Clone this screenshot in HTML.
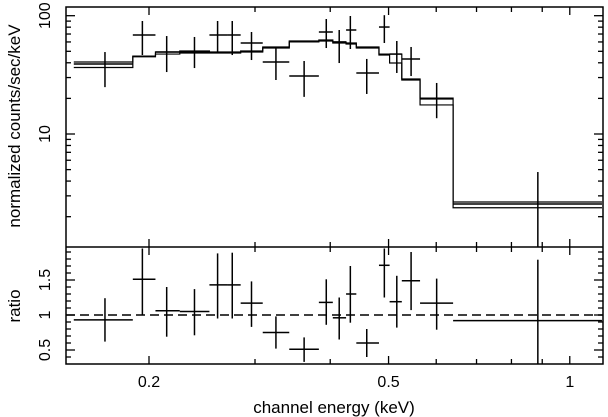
<!DOCTYPE html>
<html><head><meta charset="utf-8"><style>
html,body{margin:0;padding:0;background:#fff}
svg{display:block}
text{font-family:"Liberation Sans",sans-serif;fill:#000}
</style></head><body>
<svg id="chart" width="608" height="417" viewBox="0 0 608 417" xmlns="http://www.w3.org/2000/svg"></svg>
<script>
const binLo = [0.150,0.188,0.205,0.225,0.252,0.270,0.284,0.309,0.342,0.383,0.404,0.425,0.442,0.482,0.502,0.526,0.564,0.640];
const binHi = [0.188,0.205,0.225,0.252,0.270,0.284,0.309,0.342,0.383,0.404,0.425,0.442,0.482,0.502,0.526,0.564,0.640,1.131];
const binCenter = [0.169,0.195,0.214,0.238,0.260,0.275,0.296,0.325,0.362,0.394,0.414,0.432,0.460,0.492,0.516,0.545,0.601,0.885];
const counts = [39.1,68.7,49.3,49.3,68.7,68.7,58.8,40.6,30.9,72.8,60.0,75.7,32.8,80.2,47.4,43.1,19.8,2.56];
const countsHi = [49.3,90.2,67.3,66.1,90.2,90.2,72.8,54.4,41.4,93.8,75.7,99.4,43.1,101,61.1,54.4,27.0,4.77];
const countsLo = [24.9,46.5,33.4,36.1,48.4,46.5,42.2,28.6,20.6,53.3,39.8,52.3,21.8,58.8,32.8,30.9,13.6,0.5];
const modelA = [40.6,45.6,49.3,50.3,49.3,49.3,50.3,54.4,61.1,62.3,60.0,58.8,54.4,47.4,47.4,29.2,20.1,2.66];
const modelB = [36.5,45.0,47.4,48.4,48.4,48.4,49.3,53.3,60.0,61.1,58.8,57.6,53.3,46.5,39.8,28.6,17.6,2.38];
const ratio = [0.93,1.51,1.06,1.05,1.43,1.43,1.17,0.75,0.51,1.18,0.96,1.30,0.60,1.71,1.19,1.49,1.17,0.92];
const ratioHi = [1.24,1.95,1.40,1.37,1.88,1.89,1.48,0.98,0.68,1.51,1.25,1.70,0.80,1.95,1.56,1.90,1.52,1.79];
const ratioLo = [0.62,1.00,0.69,0.71,0.95,0.95,0.83,0.52,0.33,0.86,0.65,0.89,0.40,1.25,0.82,1.07,0.79,0.20];
const xTickLabels = [0.2,0.5,1];
const xMinorTicks = [0.2,0.3,0.4,0.5,0.6,0.7,0.8,0.9,1.0];
const yTopLabels = [10,100];
const yTopMinor = [2,3,4,5,6,7,8,9,20,30,40,50,60,70,80,90];
const yRatioLabels = [0.5,1,1.5];
const yRatioMinor = [0.3,0.4,0.5,0.6,0.7,0.8,0.9,1.0,1.1,1.2,1.3,1.4,1.5,1.6,1.7,1.8,1.9];

const L=66,R=603,T=7,M=247,B=364;
const svg=document.getElementById('chart');
const NS='http://www.w3.org/2000/svg';
function X(e){return 149+602*(Math.log10(e)-Math.log10(0.2));}
function YT(v){return 15.7+118.3*(2-Math.log10(v));}
function YR(r){return 315-70*(r-1);}
function clampT(y){return Math.max(T,Math.min(M,y));}
function clampR(y){return Math.max(M,Math.min(B,y));}
function mk(tag,attrs,parent){const el=document.createElementNS(NS,tag);for(const k in attrs)el.setAttribute(k,attrs[k]);(parent||svg).appendChild(el);return el;}
function line(x1,y1,x2,y2,g,w){return mk('line',{x1,y1,x2,y2,stroke:'#000','stroke-width':w||1.3},g);}

const axes=mk('g',{});


mk('rect',{x:L,y:T,width:R-L,height:B-T,fill:'none',stroke:'#000','stroke-width':1.5},axes);
line(L,M,R,M,axes,1.5);
xMinorTicks.forEach(v=>{const x=X(v);const major=(v===0.2||v===0.5||v===1.0);const len=major?8:5;
  [T,M].forEach(y=>line(x,y,x,y+len,axes));
  [M,B].forEach(y=>line(x,y,x,y-len,axes));});
yTopLabels.forEach(v=>{const y=YT(v);line(L,y,L+9,y,axes);line(R,y,R-9,y,axes);});
yTopMinor.forEach(v=>{const y=YT(v);if(y>T&&y<M){line(L,y,L+5,y,axes);line(R,y,R-5,y,axes);}});
yRatioMinor.forEach(v=>{const y=YR(v);const major=yRatioLabels.indexOf(v)>=0;const len=major?9:5;if(y>M&&y<B){line(L,y,L+len,y,axes);line(R,y,R-len,y,axes);}});

xTickLabels.forEach(v=>{const t=mk('text',{x:X(v),y:387,'font-size':16,'text-anchor':'middle'});t.textContent=String(v);
  
  });
yTopLabels.forEach(v=>{const y=YT(v);const t=mk('text',{x:0,y:0,'font-size':16,'text-anchor':'middle',transform:`translate(50,${y}) rotate(-90)`});t.textContent=String(v);
  
  });
yRatioLabels.forEach(v=>{const y=YR(v);const t=mk('text',{x:0,y:0,'font-size':16,'text-anchor':'middle',transform:`translate(50,${y}) rotate(-90)`});t.textContent=String(v);
  
  });
const xt=mk('text',{x:334,y:413,'font-size':17,'text-anchor':'middle'});xt.textContent='channel energy (keV)';


const yt=mk('text',{x:0,y:0,'font-size':17,'text-anchor':'middle',transform:'translate(20,126) rotate(-90)'});yt.textContent='normalized counts/sec/keV';


const rt=mk('text',{x:0,y:0,'font-size':17,'text-anchor':'middle',transform:'translate(20,306) rotate(-90)'});rt.textContent='ratio';



function stepPath(vals){let d='';for(let i=0;i<vals.length;i++){const x1=X(binLo[i]),x2=X(binHi[i]),y=YT(vals[i]);d+=(i===0?'M':'L')+x1+','+y+' L'+x2+','+y+' ';}return d;}
const mA=mk('path',{d:stepPath(modelA),fill:'none',stroke:'#000','stroke-width':1.2});


const mB=mk('path',{d:stepPath(modelB),fill:'none',stroke:'#000','stroke-width':1.2});



for(let i=0;i<counts.length;i++){
  const g=mk('g',{});
  
  
  const xc=X(binCenter[i]),y=YT(counts[i]);
  line(X(binLo[i]),y,X(binHi[i]),y,g,1.5);
  line(xc,clampT(YT(countsHi[i])),xc,clampT(YT(countsLo[i])),g,1.5);
}
const ref=line(L,YR(1),R,YR(1),svg,1.5);
ref.setAttribute('stroke-dasharray','9,5');


for(let i=0;i<ratio.length;i++){
  const g=mk('g',{});
  
  
  const xc=X(binCenter[i]),y=YR(ratio[i]);
  line(X(binLo[i]),y,X(binHi[i]),y,g,1.5);
  line(xc,clampR(YR(ratioHi[i])),xc,clampR(YR(ratioLo[i])),g,1.5);
}
</script>
</body></html>
